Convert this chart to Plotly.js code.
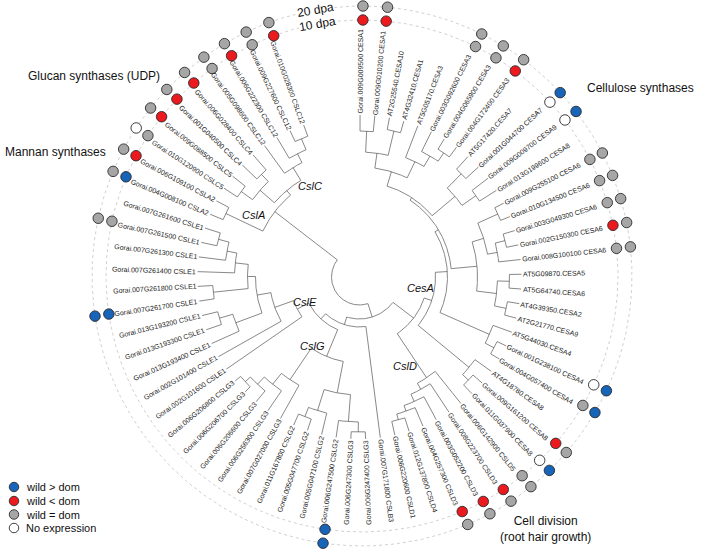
<!DOCTYPE html>
<html><head><meta charset="utf-8">
<script src="https://cdn.plot.ly/plotly-3.0.1.min.js"></script>
<style>html,body{margin:0;padding:0;background:#fff}</style>
</head><body><div id="chart" style="width:702px;height:551px"></div>
<script>
// ---------------- data ----------------
const leafNames = [
"Gorai.009G009500 CESA1","Gorai.009G010200 CESA1","AT2G25540.CESA10","AT4G32410.CESA1","AT5G05170.CESA3",
"Gorai.003G092600 CESA3","Gorai.004G065900 CESA3","Gorai.004G172400 CESA3","AT5G17420.CESA7","Gorai.001G044700 CESA7",
"Gorai.009G009700 CESA9","Gorai.013G199600 CESA8","Gorai.009G255100 CESA6","Gorai.010G134500 CESA6","Gorai.003G049300 CESA6",
"Gorai.002G150300 CESA6","Gorai.008G100100 CESA6","AT5G09870.CESA5","AT5G64740.CESA6","AT4G39350.CESA2",
"AT2G21770.CESA9","AT5G44030.CESA4","Gorai.001G238100 CESA4","Gorai.004G057400 CESA4","AT4G18780.CESA8",
"Gorai.009G161200 CESA8","Gorai.011G037900 CESA8","Gorai.006G142900 CSLD5","Gorai.008G223700 CSLD3","Gorai.003G052200 CSLD3",
"Gorai.004G257300 CSLD3","Gorai.012G137800 CSLD4","Gorai.006G220600 CSLD1","Gorai.007G171800 CSLB3","Gorai.006G247400 CSLG3",
"Gorai.006G247300 CSLG3","Gorai.006G247500 CSLG2","Gorai.005G047100 CSLG2","Gorai.005G047700 CSLG2","Gorai.011G167800 CSLG2",
"Gorai.007G027000 CSLG3","Gorai.006G256300 CSLG3","Gorai.006G206600 CSLG3","Gorai.006G206700 CSLG3","Gorai.006G206800 CSLG3",
"Gorai.002G101600 CSLE1","Gorai.002G101400 CSLE1","Gorai.013G193400 CSLE1","Gorai.013G193300 CSLE1","Gorai.013G193200 CSLE1",
"Gorai.007G261700 CSLE1","Gorai.007G261800 CSLE1","Gorai.007G261400 CSLE1","Gorai.007G261300 CSLE1","Gorai.007G261500 CSLE1",
"Gorai.007G261600 CSLE1","Gorai.004G008100 CSLA2","Gorai.006G109100 CSLA2","Gorai.010G120900 CSLC5","Gorai.009G088500 CSLC5",
"Gorai.001G040500 CSLC4","Gorai.006G028400 CSLC4","Gorai.005G098600 CSLC12","Gorai.006G222300 CSLC12","Gorai.009G227600 CSLC12",
"Gorai.010G028300 CSLC12"];
// expression comparison codes: B wild>dom, R wild<dom, G wild=dom, W no expression, "" not shown
const status10dpa = ["R","R","","","","G","G","R","","W","W","","G","G","G","R","G","","","","","","W","G","","R","W","G","R","R","R","","","","","","B","","","","","","","","","","","","","","B","","","","G","","B","R","G","R","R","R","G","R","G","R"];
const status20dpa = ["G","G","","","","G","G","G","","B","B","","G","G","G","G","G","","","","","","B","B","","G","B","G","G","G","G","","","","","","B","","","","","","","","","","","","","","B","","","","G","","G","G","W","G","G","G","G","G","G","G"];
const statusLegend = ["wild > dom","wild < dom","wild = dom","No expression"];
const statusCodes = ["B","R","G","W"];
// tree topology: "(children)r" where r is node depth (radius), leaves are indices into leafNames
const treeNewick =
 "(" +
  "(" +
   "(" +
    "(((((((0,1)146,(2,3)150)125,(4,(5,(6,7)150)140)128)110,((8,9)145,(10,11)142)125)95," +
    "(((12,13)152,((14,15)150,16)140)130,((17,18)150,(19,20)150)138)118)92," +
    "(21,(22,23)152)142)88," +
    "(24,(25,26)150)142)76," +
    "(27,(28,(29,(30,(31,32)148)142)136)128)121" +
   ")68," +
   "(33," +
    "(((((34,35)155,36)145,(37,(38,39)150)140)118,(40,(41,(42,(43,44)155)148)138)124)86," +
    "(45,(46,(((48,49)146,47)132,((((54,55)146,53)135,52)125,(50,51)147)112)104)90)70)57" +
   ")50" +
  ")42," +
  "((56,57)148,(((63,(64,65)150)138,62)128,((60,61)142,(58,59)146)132)113)107" +
 ")28";
const cladeNames = ["CslC","CslA","CslE","CslG","CesA","CslD"];
const groupNames = ["Glucan synthases (UDP)","Mannan synthases","Cellulose synthases","Cell division<br>(root hair growth)"];
const ringNames = ["20 dpa","10 dpa"];

// ---------------- geometry ----------------
const FONT = "Liberation Sans, Arial, sans-serif";
const TC = {x:359.5, y:277};     // tree centre
const RC = {x:362, y:276};       // ring centre
const R10 = 256, R20 = 270, RTIP = 162;
const A0 = 0.2, DA = 5.225;
const colorOf = {B:"#1764b8", R:"#ea1a1f", G:"#a6a6a6", W:"#ffffff"};
const rad = d => d*Math.PI/180;
const pt = (c,r,a) => [c.x + r*Math.sin(rad(a)), c.y - r*Math.cos(rad(a))];
const leafAngle = i => A0 + i*DA;

function parse(s){
  s = s.replace(/\s+/g,''); let i=0;
  function num(){ let t=''; while(i<s.length && /[0-9.]/.test(s[i])) t+=s[i++]; return parseFloat(t); }
  function node(){
    if(s[i]==='('){ i++; const kids=[];
      for(;;){ kids.push(node()); if(s[i]===','){i++;continue;} if(s[i]===')'){i++;break;} }
      return {kids, r:num()};
    }
    return {leaf:num()};
  }
  return node();
}
const tree = parse(treeNewick);
const lx=[], ly=[];
function layout(n){
  if(n.leaf!==undefined){ n.a = leafAngle(n.leaf); n.r = RTIP; return; }
  n.kids.forEach(layout);
  const as = n.kids.map(k=>k.a);
  const lo = Math.min(...as), hi = Math.max(...as);
  n.a = (lo+hi)/2;
  for(let a=lo; a<hi; a+=0.5){ const p=pt(TC,n.r,a); lx.push(p[0]); ly.push(p[1]); }
  const p=pt(TC,n.r,hi); lx.push(p[0]); ly.push(p[1]); lx.push(null); ly.push(null);
  n.kids.forEach(k=>{
    const p1=pt(TC,n.r,k.a), p2=pt(TC,k.r,k.a);
    lx.push(p1[0],p2[0],null); ly.push(p1[1],p2[1],null);
  });
}
layout(tree);

const traces = [];
// rings
[R20,R10].forEach(R=>{
  const x=[],y=[];
  for(let a=0;a<=360;a+=0.5){const p=pt(RC,R,a); x.push(p[0]); y.push(p[1]);}
  traces.push({type:'scatter',mode:'lines',x,y,line:{color:'#c4c4c4',width:0.8,dash:'dot'},hoverinfo:'skip'});
});
traces.push({type:'scatter',mode:'lines',x:lx,y:ly,line:{color:'#6a6a6a',width:0.8},hoverinfo:'skip'});

// expression circles
[[status10dpa,R10],[status20dpa,R20]].forEach(([st,R])=>{
  const x=[],y=[],c=[];
  st.forEach((s,i)=>{ if(!s) return; const p=pt(RC,R,leafAngle(i)); x.push(p[0]); y.push(p[1]); c.push(colorOf[s]); });
  traces.push({type:'scatter',mode:'markers',x,y,marker:{size:10.5,color:c,line:{color:'#2a2a2a',width:0.9}},hoverinfo:'skip'});
});

// legend markers
const legY = [487,501,514.5,528];
traces.push({type:'scatter',mode:'markers',x:statusCodes.map(()=>14),y:legY,
  marker:{size:9.5,color:statusCodes.map(s=>colorOf[s]),line:{color:'#2a2a2a',width:0.9}},hoverinfo:'skip'});

// ---------------- text ----------------
const ctx = document.createElement('canvas').getContext('2d');
const LFS = 7;
ctx.font = LFS+'px "Liberation Sans"';
const ann = [];
leafNames.forEach((name,i)=>{
  const a = leafAngle(i);
  const w = ctx.measureText(name).width;
  const p = pt(TC, RTIP + 1.5 + w/2, a);
  const right = a < 175;
  ann.push({x:p[0],y:p[1],xref:'x',yref:'y',text:name,showarrow:false,
    textangle: right ? a-90 : a-270, xanchor:'center',yanchor:'middle',
    font:{size:LFS,color:'#222',family:FONT}, borderpad:0});
});
const cladePos = [[310,186],[253,215],[305,302],[312,346],[420,288],[405,366]];
cladeNames.forEach((t,i)=>ann.push({x:cladePos[i][0],y:cladePos[i][1],xref:'x',yref:'y',text:'<i>'+t+'</i>',
  showarrow:false,font:{size:11,color:'#111',family:FONT},bgcolor:'rgba(255,255,255,0)'}));
const groupPos = [[94,76,'center'],[55,152,'center'],[640,88,'center'],[545,529,'center']];
groupNames.forEach((t,i)=>ann.push({x:groupPos[i][0],y:groupPos[i][1],xref:'x',yref:'y',text:t,showarrow:false,
  align:'center',font:{size:12,color:'#111',family:FONT}}));
const ringPos = [[R20,-10],[R10,-10]];
ringNames.forEach((t,i)=>{ const p=pt(RC,ringPos[i][0],ringPos[i][1]);
  ann.push({x:p[0],y:p[1],xref:'x',yref:'y',text:t,showarrow:false,textangle:ringPos[i][1],
    font:{size:12,color:'#111',family:FONT},bgcolor:'#fff',borderpad:0}); });
statusLegend.forEach((t,i)=>ann.push({x:24,y:legY[i],xref:'x',yref:'y',text:t,showarrow:false,xanchor:'left',
  font:{size:11,color:'#111',family:FONT}}));

Plotly.newPlot('chart', traces, {
  width:702,height:551,margin:{l:0,r:0,t:0,b:0},showlegend:false,
  paper_bgcolor:'#fff',plot_bgcolor:'#fff',
  xaxis:{range:[0,702],visible:false,fixedrange:true},
  yaxis:{range:[551,0],visible:false,fixedrange:true},
  annotations:ann
},{staticPlot:true});
</script></body></html>
